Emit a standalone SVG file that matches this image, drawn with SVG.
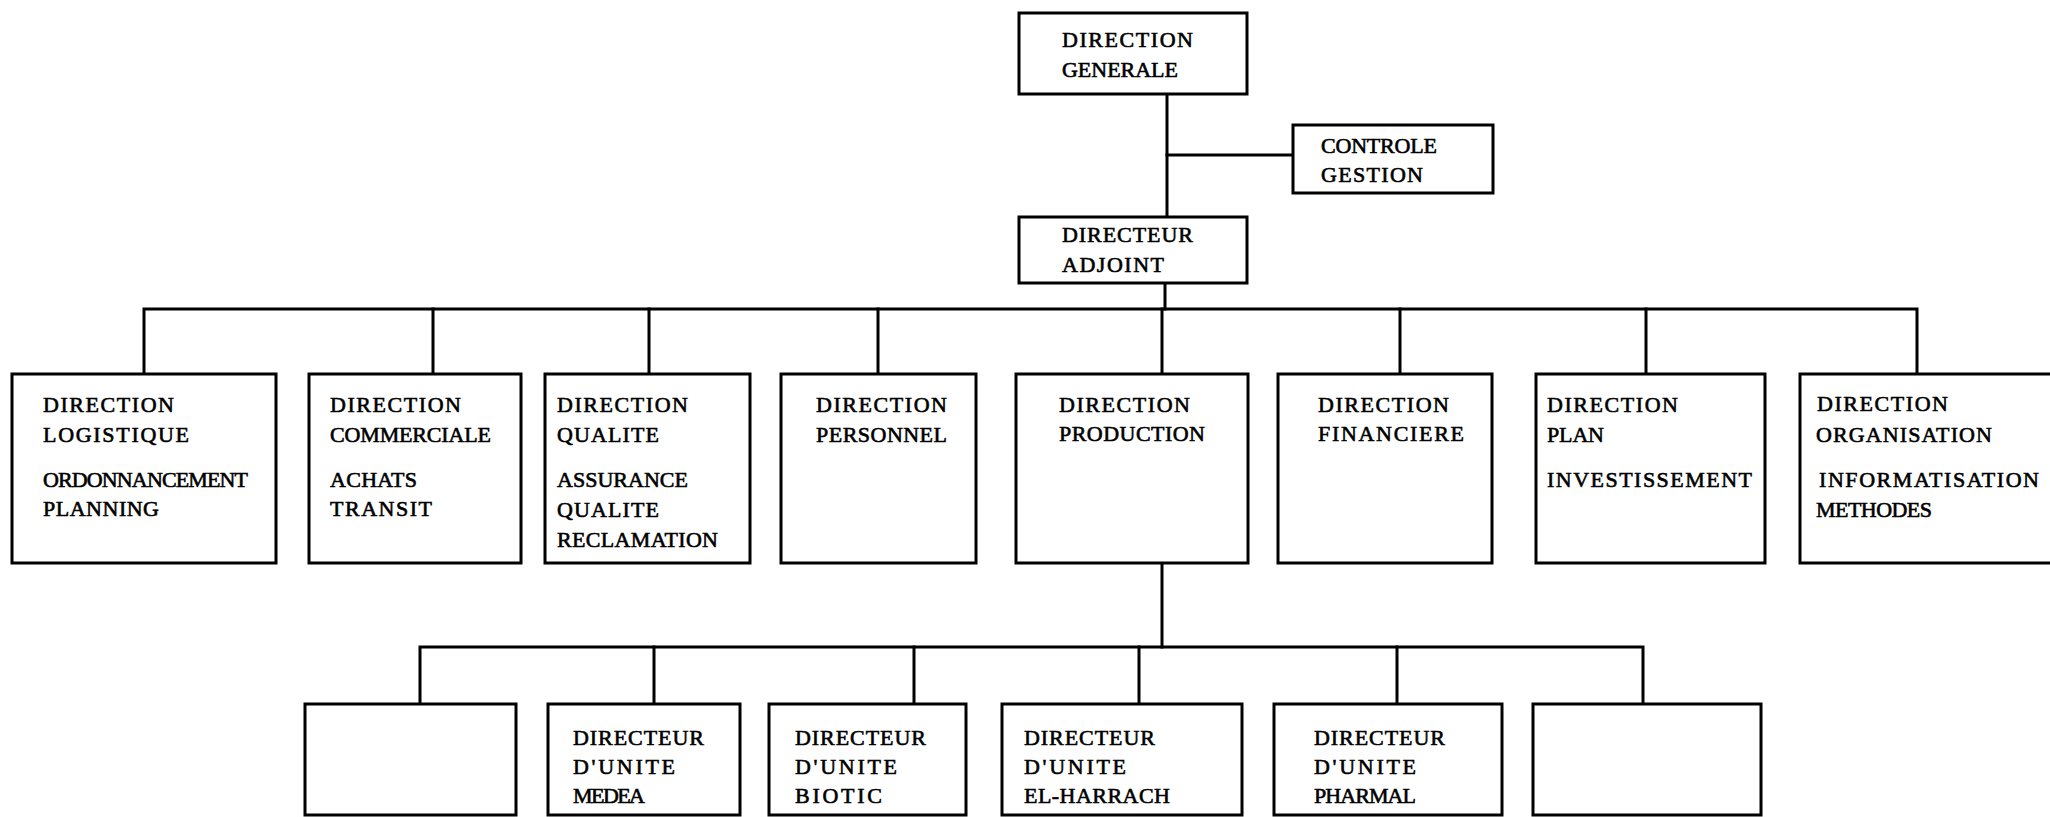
<svg xmlns="http://www.w3.org/2000/svg" width="2050" height="817" viewBox="0 0 2050 817">
<style>
.box{fill:#fff;stroke:#000;stroke-width:3}
.ln{fill:none;stroke:#000;stroke-width:3;stroke-linecap:square}
text{font-family:"Liberation Serif","Times New Roman",serif;font-size:22px;fill:#000;stroke:#000;stroke-width:0.6}
</style>
<rect width="2050" height="817" fill="#fff"/>
<g id="connectors">
<path class="ln" d="M1167,94 V217"/>
<path class="ln" d="M1167,155 H1293"/>
<path class="ln" d="M1165,283 V309"/>
<path class="ln" d="M144,374 V309 H1917 V374"/>
<path class="ln" d="M433,309 V374 M649,309 V374 M878,309 V374 M1162,309 V374 M1400,309 V374 M1646,309 V374"/>
<path class="ln" d="M1162,563 V647"/>
<path class="ln" d="M420,704 V647 H1643 V704"/>
<path class="ln" d="M654,647 V704 M914,647 V704 M1139,647 V704 M1397,647 V704"/>
</g>
<g id="n-direction-generale"><rect class="box" x="1019" y="13" width="228" height="81"/><text x="1062" y="47" textLength="131">DIRECTION</text><text x="1062" y="77" textLength="116">GENERALE</text></g>
<g id="n-controle-gestion"><rect class="box" x="1293" y="125" width="200" height="68"/><text x="1321" y="153" textLength="116">CONTROLE</text><text x="1321" y="182" textLength="102">GESTION</text></g>
<g id="n-directeur-adjoint"><rect class="box" x="1019" y="217" width="228" height="66"/><text x="1062" y="242" textLength="131">DIRECTEUR</text><text x="1062" y="272" textLength="102">ADJOINT</text></g>
<g id="n-logistique"><rect class="box" x="12" y="374" width="264" height="189"/><text x="43" y="412" textLength="131">DIRECTION</text><text x="43" y="442" textLength="146">LOGISTIQUE</text><text x="43" y="487" textLength="205">ORDONNANCEMENT</text><text x="43" y="516" textLength="116">PLANNING</text></g>
<g id="n-commerciale"><rect class="box" x="309" y="374" width="212" height="189"/><text x="330" y="412" textLength="131">DIRECTION</text><text x="330" y="442" textLength="161">COMMERCIALE</text><text x="330" y="487" textLength="87">ACHATS</text><text x="330" y="516" textLength="102">TRANSIT</text></g>
<g id="n-qualite"><rect class="box" x="545" y="374" width="205" height="189"/><text x="557" y="412" textLength="131">DIRECTION</text><text x="557" y="442" textLength="102">QUALITE</text><text x="557" y="487" textLength="131">ASSURANCE</text><text x="557" y="517" textLength="102">QUALITE</text><text x="557" y="547" textLength="161">RECLAMATION</text></g>
<g id="n-personnel"><rect class="box" x="781" y="374" width="195" height="189"/><text x="816" y="412" textLength="131">DIRECTION</text><text x="816" y="442" textLength="131">PERSONNEL</text></g>
<g id="n-production"><rect class="box" x="1016" y="374" width="232" height="189"/><text x="1059" y="412" textLength="131">DIRECTION</text><text x="1059" y="441" textLength="146">PRODUCTION</text></g>
<g id="n-financiere"><rect class="box" x="1278" y="374" width="214" height="189"/><text x="1318" y="412" textLength="131">DIRECTION</text><text x="1318" y="441" textLength="146">FINANCIERE</text></g>
<g id="n-plan"><rect class="box" x="1536" y="374" width="229" height="189"/><text x="1547" y="412" textLength="131">DIRECTION</text><text x="1547" y="442" textLength="57">PLAN</text><text x="1547" y="487" textLength="205">INVESTISSEMENT</text></g>
<g id="n-organisation"><rect class="box" x="1800" y="374" width="260" height="189"/><text x="1817" y="411" textLength="131">DIRECTION</text><text x="1816" y="442" textLength="176">ORGANISATION</text><text x="1819" y="487" textLength="220">INFORMATISATION</text><text x="1816" y="517" textLength="116">METHODES</text></g>
<g id="n-unite-1"><rect class="box" x="305" y="704" width="211" height="111"/></g>
<g id="n-unite-medea"><rect class="box" x="548" y="704" width="192" height="111"/><text x="573" y="745" textLength="131">DIRECTEUR</text><text x="573" y="774" textLength="102">D'UNITE</text><text x="573" y="803" textLength="72">MEDEA</text></g>
<g id="n-unite-biotic"><rect class="box" x="769" y="704" width="197" height="111"/><text x="795" y="745" textLength="131">DIRECTEUR</text><text x="795" y="774" textLength="102">D'UNITE</text><text x="795" y="803" textLength="87">BIOTIC</text></g>
<g id="n-unite-elharrach"><rect class="box" x="1002" y="704" width="240" height="111"/><text x="1024" y="745" textLength="131">DIRECTEUR</text><text x="1024" y="774" textLength="102">D'UNITE</text><text x="1024" y="803" textLength="146">EL-HARRACH</text></g>
<g id="n-unite-pharmal"><rect class="box" x="1274" y="704" width="228" height="111"/><text x="1314" y="745" textLength="131">DIRECTEUR</text><text x="1314" y="774" textLength="102">D'UNITE</text><text x="1314" y="803" textLength="102">PHARMAL</text></g>
<g id="n-unite-6"><rect class="box" x="1533" y="704" width="228" height="111"/></g>
</svg>
